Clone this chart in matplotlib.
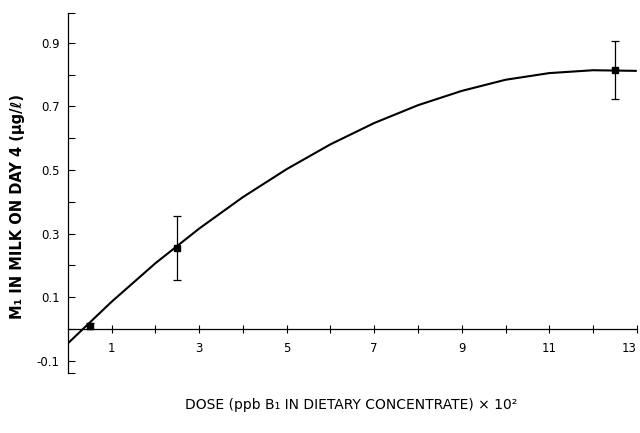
import numpy as np
import matplotlib.pyplot as plt

# figure size in inches at 100 dpi -> 640x433
FIGWIDTH = 6.4
FIGHEIGHT = 4.33

# measured points (dose x 10^2 ppb, M1 ug/l) with error bars
dose = [0.5, 2.5, 12.5]
m1 = [0.01, 0.255, 0.815]
m1_err = [0.01, 0.10, 0.09]

# fitted curve
curve_x = [0, 1, 2, 3, 4, 5, 6, 7, 8, 9, 10, 11, 12, 13]
curve_y = [-0.045, 0.086, 0.207, 0.316, 0.415, 0.503, 0.581, 0.648,
           0.704, 0.749, 0.784, 0.805, 0.814, 0.812]

xticks_major = [1, 3, 5, 7, 9, 11, 13]
xticks_minor = [2, 4, 6, 8, 10, 12]
yticks_major = [-0.1, 0.1, 0.3, 0.5, 0.7, 0.9]
yticks_minor = [-0.138, 0.0, 0.2, 0.4, 0.6, 0.8, 0.994]


def plot_dose_curve(filename):
    fig = plt.figure(figsize=(FIGWIDTH, FIGHEIGHT), dpi=100)
    ax = fig.add_axes([0.106, 0.1386, 0.889, 0.8314])

    ax.plot(curve_x, curve_y, color='black', lw=1.5, solid_capstyle='butt')
    ax.errorbar(dose, m1, yerr=m1_err, fmt='s', color='black', ms=4,
                ecolor='black', elinewidth=0.9, capsize=3, capthick=0.9)

    ax.set_xlim(0, 13)
    ax.set_ylim(-0.138, 0.994)

    ax.spines['top'].set_visible(False)
    ax.spines['right'].set_visible(False)
    ax.spines['bottom'].set_position(('data', 0))
    ax.spines['left'].set_linewidth(0.9)
    ax.spines['bottom'].set_linewidth(0.9)

    ax.set_xticks(xticks_major)
    ax.set_xticks(xticks_minor, minor=True)
    ax.set_xticklabels([str(v) for v in xticks_major])
    ax.set_yticks(yticks_major)
    ax.set_yticks(yticks_minor, minor=True)
    ax.set_yticklabels(['%.1f' % v for v in yticks_major])

    ax.tick_params(axis='x', which='both', direction='inout', length=6,
                   width=0.8, pad=6, labelsize=8.5)
    ax.tick_params(axis='y', which='both', direction='in', length=5,
                   width=0.8, pad=6, labelsize=8.5)
    # last label sits at the right edge; keep it inside the figure
    ax.get_xticklabels()[-1].set_horizontalalignment('right')

    fig.text(0.027, 0.522, 'M\u2081 IN MILK ON DAY 4 (\u03bcg/\u2113)',
             rotation=90, ha='center', va='center', fontsize=10.5,
             fontweight='bold')
    fig.text(0.549, 0.064, 'DOSE (ppb B\u2081 IN DIETARY CONCENTRATE) \u00d7 10\u00b2',
             ha='center', va='center', fontsize=10)

    fig.savefig(filename, dpi=100)


plot_dose_curve('out.png')
